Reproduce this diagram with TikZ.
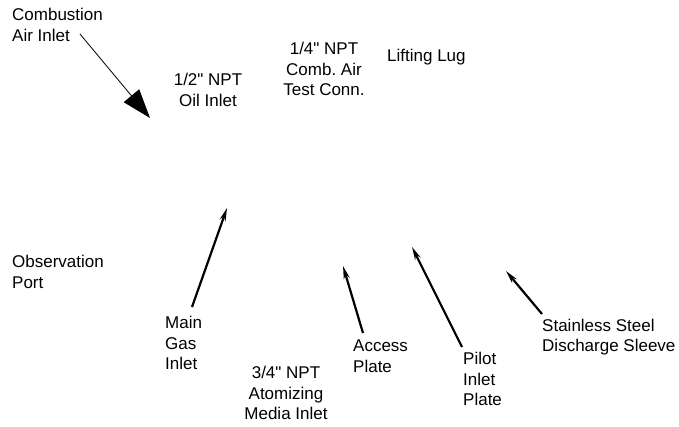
\documentclass[tikz,border=0pt]{standalone}
\usepackage{fontspec}
\setmainfont{Liberation Sans}
\usetikzlibrary{arrows.meta}
\newcommand{\qd}{\textquotedbl}
\frenchspacing
\begin{document}
\begin{tikzpicture}[x=1pt,y=-1pt,
  lbl/.style={inner sep=0pt,font=\fontsize{17}{20.5}\selectfont},
  lblL/.style={lbl,align=left,anchor=west},
  lblC/.style={lbl,align=center,anchor=center},
  bigarrow/.style={line width=0.8pt,-{Triangle[length=29pt,width=20pt]}},
  ptr/.style={line width=2.2pt,-{Stealth[length=13pt,width=6pt]}}]
\useasboundingbox (0,0) rectangle (679,427);
% labels
\node[lblL] (comb) at (12,25) {Combustion\\Air Inlet};
\node[lblC] (oil) at (208,90) {1/2\qd{} NPT\\Oil Inlet};
\node[lblC] (test) at (324,69) {1/4\qd{} NPT\\Comb.\ Air\\Test Conn.};
\node[lblL] (lug) at (387,57) {Lifting Lug};
\node[lblL] (obs) at (12,272) {Observation\\Port};
\node[lblL] (gas) at (165,343) {Main\\Gas\\Inlet};
\node[lblC] (atom) at (286,393) {3/4\qd{} NPT\\Atomizing\\Media Inlet};
\node[lblL] (acc) at (353,356) {Access\\Plate};
\node[lblL] (pilot) at (463,379) {Pilot\\Inlet\\Plate};
\node[lblL] (sleeve) at (542,337) {Stainless Steel\\Discharge Sleeve};
% connector ends
\coordinate (combS) at (80,34);
\coordinate (combT) at (150,118);
\coordinate (gasS) at (192,307);
\coordinate (gasT) at (227,208);
\coordinate (accS) at (363,333);
\coordinate (accT) at (343,266);
\coordinate (pilS) at (462,347);
\coordinate (pilT) at (412,247);
\coordinate (slvS) at (542,314);
\coordinate (slvT) at (506,271);
\draw[bigarrow] (combS) -- (combT);
\draw[ptr] (gasS) -- (gasT);
\draw[ptr] (accS) -- (accT);
\draw[ptr] (pilS) -- (pilT);
\draw[ptr] (slvS) -- (slvT);
\end{tikzpicture}
\end{document}
